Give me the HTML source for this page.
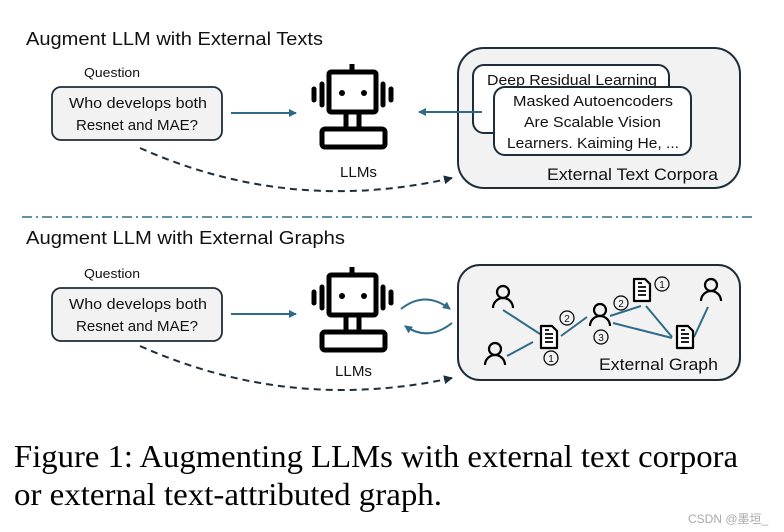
<!DOCTYPE html>
<html><head><meta charset="utf-8"><style>
html,body{margin:0;padding:0;background:#fff;}
svg{display:block;}
.s{font-family:"Liberation Sans",sans-serif;fill:#111;}
.f{font-family:"Liberation Serif",serif;fill:#000;}
</style></head><body>
<svg width="784" height="532" viewBox="0 0 784 532" xmlns="http://www.w3.org/2000/svg">
<defs>
<marker id="a" markerWidth="8" markerHeight="8" refX="7" refY="4" orient="auto" markerUnits="userSpaceOnUse"><path d="M0,0 L8,4 L0,8 Z" fill="#2e6b8a"/></marker>
<marker id="ad" markerWidth="9" markerHeight="9" refX="8" refY="4.5" orient="auto" markerUnits="userSpaceOnUse"><path d="M0,0 L9,4.5 L0,9 Z" fill="#1d2d3a"/></marker>
<g id="robot" fill="none" stroke="#000" stroke-width="5" stroke-linejoin="round">
<line x1="352" y1="64" x2="352" y2="71"/>
<rect x="329" y="72" width="47" height="40" rx="2"/>
<circle cx="342" cy="93" r="3" fill="#000" stroke="none"/>
<circle cx="364" cy="93" r="3" fill="#000" stroke="none"/>
<line x1="314" y1="89" x2="314" y2="100" stroke-linecap="round"/>
<line x1="322" y1="84" x2="322" y2="105" stroke-linecap="round"/>
<line x1="383" y1="84" x2="383" y2="105" stroke-linecap="round"/>
<line x1="391" y1="89" x2="391" y2="100" stroke-linecap="round"/>
<path d="M346,112 V129 M359,112 V129"/>
<rect x="322" y="129" width="63" height="18" rx="3"/>
</g>
<g id="person" fill="none" stroke="#000" stroke-width="2.2">
<circle cx="0" cy="-6" r="6"/>
<path d="M-10,10 A10,10 0 0 1 10,10"/>
</g>
<g id="doc">
<path d="M-8,-11 H3 L8,-6 V11 H-8 Z" fill="#fff" stroke="#000" stroke-width="2.2" stroke-linejoin="round"/>
<path d="M-4,-3 H4 M-4,1 H4 M-4,5 H4 M-4,-7 H0" stroke="#000" stroke-width="1.8"/>
</g>
</defs>

<text x="26" y="45" class="s" font-size="18" textLength="297" lengthAdjust="spacingAndGlyphs">Augment LLM with External Texts</text>
<text x="84" y="77" class="s" font-size="12.5" textLength="56" lengthAdjust="spacingAndGlyphs">Question</text>
<rect x="52" y="87" width="170" height="53" rx="9" fill="#f2f2f2" stroke="#1d2d3a" stroke-width="1.8"/>
<text x="69" y="108" class="s" font-size="15" textLength="138" lengthAdjust="spacingAndGlyphs">Who develops both</text>
<text x="76" y="130" class="s" font-size="15" textLength="122" lengthAdjust="spacingAndGlyphs">Resnet and MAE?</text>
<line x1="231" y1="113" x2="296" y2="113" stroke="#2e6b8a" stroke-width="2" marker-end="url(#a)"/>
<use href="#robot"/>
<text x="340" y="177" class="s" font-size="14.5" textLength="37" lengthAdjust="spacingAndGlyphs">LLMs</text>
<path d="M140,148 Q290,215 452,178" fill="none" stroke="#1d2d3a" stroke-width="2" stroke-dasharray="7,5" marker-end="url(#ad)"/>

<rect x="458" y="48" width="282" height="140" rx="26" fill="#f2f2f2" stroke="#1d2d3a" stroke-width="2"/>
<rect x="473" y="65" width="196" height="68" rx="11" fill="#fff" stroke="#1d2d3a" stroke-width="2"/>
<text x="487" y="85" class="s" font-size="15" textLength="170" lengthAdjust="spacingAndGlyphs">Deep Residual Learning</text>
<rect x="494" y="87" width="197" height="68" rx="11" fill="#fff" stroke="#1d2d3a" stroke-width="2"/>
<text x="513" y="106" class="s" font-size="15" textLength="160" lengthAdjust="spacingAndGlyphs">Masked Autoencoders</text>
<text x="524" y="127" class="s" font-size="15" textLength="137" lengthAdjust="spacingAndGlyphs">Are Scalable Vision</text>
<text x="507" y="148" class="s" font-size="15" textLength="172" lengthAdjust="spacingAndGlyphs">Learners. Kaiming He, ...</text>
<line x1="482" y1="112" x2="419" y2="112" stroke="#2e6b8a" stroke-width="2" marker-end="url(#a)"/>
<text x="547" y="180" class="s" font-size="17" textLength="171" lengthAdjust="spacingAndGlyphs">External Text Corpora</text>

<line x1="22" y1="217" x2="756" y2="217" stroke="#2e6b8a" stroke-width="1.6" stroke-dasharray="10,4,2,4"/>

<text x="26" y="244" class="s" font-size="18" textLength="319" lengthAdjust="spacingAndGlyphs">Augment LLM with External Graphs</text>
<text x="84" y="278" class="s" font-size="12.5" textLength="56" lengthAdjust="spacingAndGlyphs">Question</text>
<rect x="52" y="288" width="170" height="53" rx="9" fill="#f2f2f2" stroke="#1d2d3a" stroke-width="1.8"/>
<text x="69" y="309" class="s" font-size="15" textLength="138" lengthAdjust="spacingAndGlyphs">Who develops both</text>
<text x="76" y="331" class="s" font-size="15" textLength="122" lengthAdjust="spacingAndGlyphs">Resnet and MAE?</text>
<line x1="231" y1="314" x2="296" y2="314" stroke="#2e6b8a" stroke-width="2" marker-end="url(#a)"/>
<use href="#robot" transform="translate(0,203)"/>
<text x="335" y="376" class="s" font-size="14.5" textLength="37" lengthAdjust="spacingAndGlyphs">LLMs</text>
<path d="M140,346 Q290,413 452,378" fill="none" stroke="#1d2d3a" stroke-width="2" stroke-dasharray="7,5" marker-end="url(#ad)"/>

<rect x="458" y="265" width="282" height="115" rx="22" fill="#f2f2f2" stroke="#1d2d3a" stroke-width="2"/>
<path d="M401,309 Q425,290 450,309" fill="none" stroke="#2e6b8a" stroke-width="2" marker-end="url(#a)"/>
<path d="M452,323 Q428,342 405,326" fill="none" stroke="#2e6b8a" stroke-width="2" marker-end="url(#a)"/>
<g stroke="#2e6b8a" stroke-width="2">
<line x1="503" y1="310" x2="540" y2="334"/>
<line x1="507" y1="356" x2="533" y2="342"/>
<line x1="561" y1="336" x2="587" y2="317"/>
<line x1="610" y1="316" x2="641" y2="306"/>
<line x1="613" y1="323" x2="672" y2="338"/>
<line x1="646" y1="306" x2="672" y2="337"/>
<line x1="694" y1="337" x2="708" y2="307"/>
</g>
<use href="#person" x="503" y="298"/>
<use href="#person" x="495" y="355"/>
<use href="#person" x="600" y="316"/>
<use href="#person" x="711" y="291"/>
<use href="#doc" x="549" y="337"/>
<use href="#doc" x="642" y="290"/>
<use href="#doc" x="685" y="337"/>
<g fill="none" stroke="#000" stroke-width="1.2">
<circle cx="567" cy="318" r="7"/><circle cx="551" cy="358" r="7"/><circle cx="601" cy="337" r="7"/><circle cx="621" cy="303" r="7"/><circle cx="662" cy="284" r="7"/>
</g>
<g class="s" font-size="10" text-anchor="middle">
<text x="567" y="322">2</text><text x="551" y="362">1</text><text x="601" y="341">3</text><text x="621" y="307">2</text><text x="662" y="288">1</text>
</g>
<text x="599" y="370" class="s" font-size="17" textLength="119" lengthAdjust="spacingAndGlyphs">External Graph</text>

<text x="14" y="467" class="f" font-size="32" textLength="724" lengthAdjust="spacingAndGlyphs">Figure 1: Augmenting LLMs with external text corpora</text>
<text x="14" y="505" class="f" font-size="32" textLength="428" lengthAdjust="spacingAndGlyphs">or external text-attributed graph.</text>
<text x="688" y="523" font-family="Liberation Sans,'Noto Sans CJK SC',sans-serif" font-size="12" fill="#aaa">CSDN @墨垣_</text>
</svg>
</body></html>
